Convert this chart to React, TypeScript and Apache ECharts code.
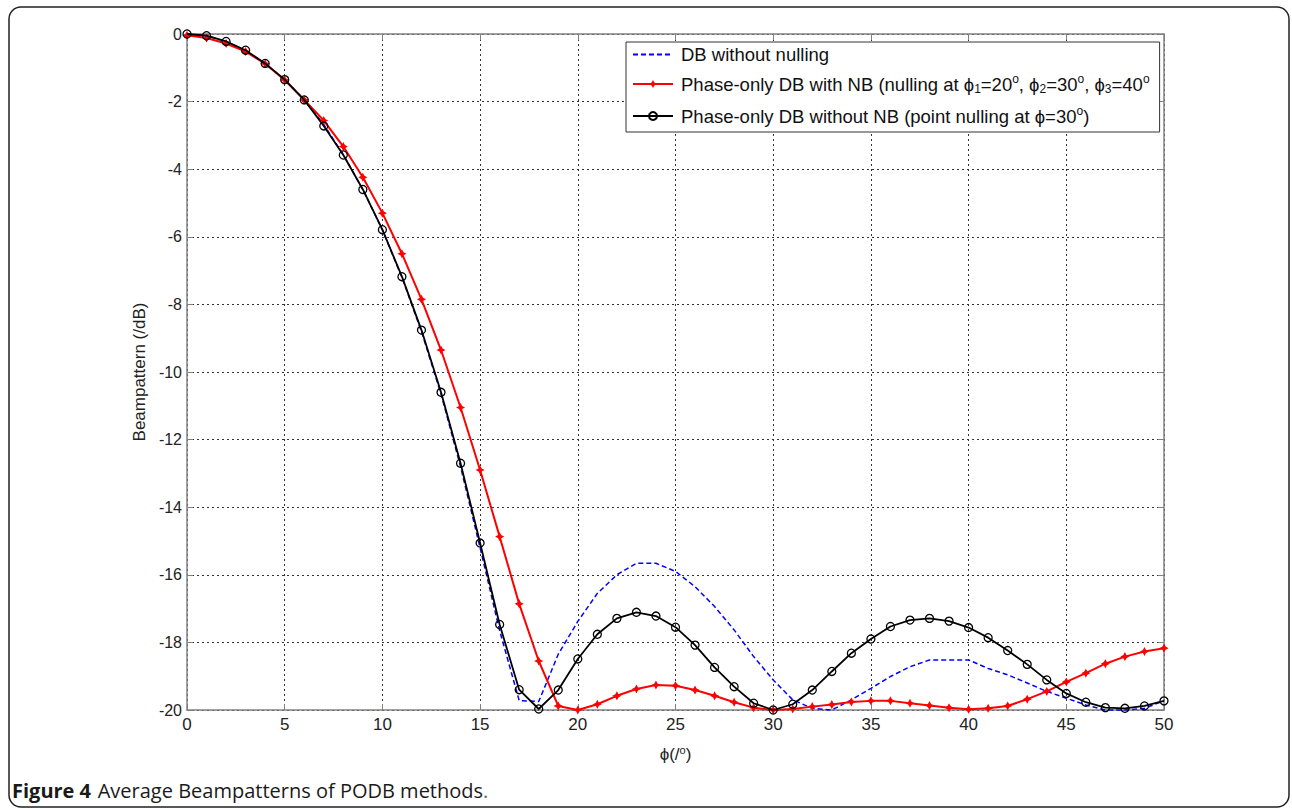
import React, { useEffect, useRef } from "react";
import * as echarts from "echarts";

const phi = [0, 1, 2, 3, 4, 5, 6, 7, 8, 9, 10, 11, 12, 13, 14, 15, 16, 17, 18, 19, 20, 21, 22, 23, 24, 25, 26, 27, 28, 29, 30, 31, 32, 33, 34, 35, 36, 37, 38, 39, 40, 41, 42, 43, 44, 45, 46, 47, 48, 49, 50];

const dbWithoutNulling = [0, -0.05, -0.22, -0.5, -0.88, -1.35, -1.95, -2.68, -3.57, -4.6, -5.8, -7.2, -8.8, -10.65, -12.8, -15.2, -17.65, -19.72, -19.75, -18.35, -17.38, -16.55, -16.0, -15.66, -15.66, -15.9, -16.35, -16.94, -17.63, -18.42, -19.11, -19.7, -19.95, -20, -19.7, -19.36, -19.01, -18.72, -18.52, -18.52, -18.52, -18.77, -18.96, -19.2, -19.45, -19.65, -19.85, -20, -20, -19.95, -19.73];

const podbWithNB = [-0.04, -0.12, -0.28, -0.52, -0.88, -1.36, -1.95, -2.56, -3.33, -4.24, -5.3, -6.5, -7.85, -9.35, -11.05, -12.9, -14.87, -16.86, -18.55, -19.88, -20, -19.83, -19.58, -19.38, -19.26, -19.28, -19.41, -19.58, -19.77, -19.93, -20, -19.97, -19.9, -19.84, -19.76, -19.73, -19.73, -19.8, -19.87, -19.93, -19.98, -19.95, -19.88, -19.68, -19.45, -19.17, -18.91, -18.63, -18.42, -18.27, -18.17];

const podbWithoutNB = [0, -0.05, -0.22, -0.48, -0.87, -1.35, -1.95, -2.72, -3.58, -4.6, -5.79, -7.18, -8.76, -10.6, -12.7, -15.06, -17.47, -19.4, -19.97, -19.41, -18.49, -17.76, -17.29, -17.11, -17.22, -17.55, -18.08, -18.74, -19.31, -19.8, -20, -19.83, -19.41, -18.86, -18.32, -17.9, -17.53, -17.34, -17.29, -17.37, -17.56, -17.86, -18.24, -18.65, -19.11, -19.51, -19.77, -19.93, -19.95, -19.88, -19.73];

const xTicks = [0, 5, 10, 15, 20, 25, 30, 35, 40, 45, 50];
const yTicks = [0, -2, -4, -6, -8, -10, -12, -14, -16, -18, -20];

const seriesNames = [
  "DB without nulling",
  "Phase-only DB with NB (nulling at ϕ1=20o, ϕ2=30o, ϕ3=40o",
  "Phase-only DB without NB (point nulling at ϕ=30o)",
];

const richLegend: Record<string, string> = {
  [seriesNames[0]]: "{t|DB without nulling}",
  [seriesNames[1]]:
    "{t|Phase-only DB with NB (nulling at ϕ}{sub|1}{t|=20}{sup|o}{t|, ϕ}{sub|2}{t|=30}{sup|o}{t|, ϕ}{sub|3}{t|=40}{sup|o}",
  [seriesNames[2]]: "{t|Phase-only DB without NB (point nulling at ϕ=30}{sup|o}{t|)}",
};

const FONT = "Liberation Sans, Arial, sans-serif";
const AXIS_GRAY = "#808080";
const LEG = 18.5;

export default function App() {
  const ref = useRef<HTMLDivElement>(null);

  useEffect(() => {
    if (!ref.current) return;
    const chart = echarts.init(ref.current, undefined, { renderer: "svg" });
    const pairs = (ys: number[]) => phi.map((x, i) => [x, ys[i]]);
    const star = "path://M0,-10 L3.5,-3.5 L10,0 L3.5,3.5 L0,10 L-3.5,3.5 L-10,0 L-3.5,-3.5 Z";

    const gridLine = { show: true, lineStyle: { color: "#333", type: [2, 3] as any, width: 1 } };

    chart.setOption({
      animation: false,
      backgroundColor: "#fff",
      grid: { left: 187, top: 34, width: 977, height: 676, containLabel: false },
      legend: {
        orient: "vertical",
        left: 626,
        top: 42,
        itemWidth: 40,
        itemHeight: 10,
        itemGap: 9,
        padding: [3, 10, 4, 6],
        borderColor: "#333",
        borderWidth: 1,
        backgroundColor: "#fff",
        data: [
          { name: seriesNames[0], itemStyle: { color: "rgba(0,0,0,0)", borderColor: "rgba(0,0,0,0)", borderWidth: 0 } },
          { name: seriesNames[1] },
          { name: seriesNames[2] },
        ],
        formatter: (name: string) => richLegend[name] || name,
        textStyle: {
          padding: [0, 0, 0, 3],
          rich: {
            t: { fontFamily: FONT, fontSize: LEG, color: "#111", lineHeight: 22, verticalAlign: "middle" },
            sub: { fontFamily: FONT, fontSize: 12, color: "#111", lineHeight: 22, verticalAlign: "bottom", padding: [9, 0, 0, 0] },
            sup: { fontFamily: FONT, fontSize: 12, color: "#111", lineHeight: 22, verticalAlign: "top", padding: [0, 0, 11, 0] },
          },
        },
      },
      xAxis: [
        {
          type: "value",
          min: 0,
          max: 50,
          interval: 5,
          position: "bottom",
          name: "ϕ(/{sup|o})",
          nameLocation: "middle",
          nameGap: 34,
          nameTextStyle: {
            fontFamily: FONT,
            fontSize: 17,
            color: "#222",
            rich: {
              sup: { fontFamily: FONT, fontSize: 11, color: "#222", verticalAlign: "top", padding: [0, 0, 10, 0] },
            },
          },
          axisLine: { show: true, onZero: false, lineStyle: { color: AXIS_GRAY, width: 1.5 } },
          axisTick: { show: true, inside: true, length: 6, lineStyle: { color: AXIS_GRAY } },
          axisLabel: {
            fontFamily: FONT,
            fontSize: 17,
            color: "#222",
            margin: 6,
            formatter: (v: number) => (xTicks.includes(v) ? String(v) : ""),
          },
          splitLine: gridLine,
        },
        {
          type: "value",
          min: 0,
          max: 50,
          interval: 5,
          position: "top",
          axisLine: { show: true, onZero: false, lineStyle: { color: AXIS_GRAY, width: 1.5 } },
          axisTick: { show: true, inside: true, length: 6, lineStyle: { color: AXIS_GRAY } },
          axisLabel: { show: false },
          splitLine: { show: false },
        },
      ],
      yAxis: [
        {
          type: "value",
          min: -20,
          max: 0,
          interval: 2,
          position: "left",
          name: "Beampattern (/dB)",
          nameLocation: "middle",
          nameGap: 36,
          nameRotate: 90,
          nameTextStyle: { fontFamily: FONT, fontSize: 17, color: "#222" },
          axisLine: { show: true, onZero: false, lineStyle: { color: AXIS_GRAY, width: 1.5 } },
          axisTick: { show: true, inside: true, length: 6, lineStyle: { color: AXIS_GRAY } },
          axisLabel: {
            fontFamily: FONT,
            fontSize: 16,
            color: "#222",
            margin: 5,
            formatter: (v: number) => (yTicks.includes(v) ? String(v) : ""),
          },
          splitLine: gridLine,
        },
        {
          type: "value",
          min: -20,
          max: 0,
          interval: 2,
          position: "right",
          axisLine: { show: true, onZero: false, lineStyle: { color: AXIS_GRAY, width: 1.5 } },
          axisTick: { show: true, inside: true, length: 6, lineStyle: { color: AXIS_GRAY } },
          axisLabel: { show: false },
          splitLine: { show: false },
        },
      ],
      series: [
        {
          name: seriesNames[0],
          type: "line",
          data: pairs(dbWithoutNulling),
          symbol: "none",
          clip: false,
          lineStyle: { color: "#0000ff", width: 1.5, type: [5, 3] as any },
          itemStyle: { color: "#0000ff" },
          z: 2,
        },
        {
          name: seriesNames[1],
          type: "line",
          data: pairs(podbWithNB),
          symbol: star,
          symbolSize: 9,
          clip: false,
          lineStyle: { color: "#ff0000", width: 2 },
          itemStyle: { color: "#ff0000" },
          z: 3,
        },
        {
          name: seriesNames[2],
          type: "line",
          data: pairs(podbWithoutNB),
          symbol: "circle",
          symbolSize: 8,
          clip: false,
          lineStyle: { color: "#000", width: 1.8 },
          itemStyle: { color: "rgba(255,255,255,0)", borderColor: "#000", borderWidth: 1.3 },
          z: 4,
        },
      ],
      graphic: [
        {
          type: "rect",
          shape: { x: 9, y: 7, width: 1280, height: 800, r: 12 },
          style: { fill: "none", stroke: "#222", lineWidth: 1.5 },
          silent: true,
          z: -1,
        },
        {
          type: "text",
          x: 12,
          y: 790,
          style: {
            text: "{b|Figure 4}  {n|Average Beampatterns of PODB methods}{d|.}",
            verticalAlign: "middle",
            rich: {
              b: { fontFamily: "Open Sans, sans-serif", fontSize: 20, fontWeight: "bold", fill: "#1a1a1a" },
              n: { fontFamily: "Open Sans, sans-serif", fontSize: 20, fill: "#1a1a1a" },
              d: { fontFamily: "Open Sans, sans-serif", fontSize: 20, fill: "#666" },
            },
          },
        },
      ],
    });

    return () => chart.dispose();
  }, []);

  return (
    <div
      ref={ref}
      style={{ position: "absolute", left: 0, top: 0, width: 1292, height: 809, background: "#fff" }}
    />
  );
}
